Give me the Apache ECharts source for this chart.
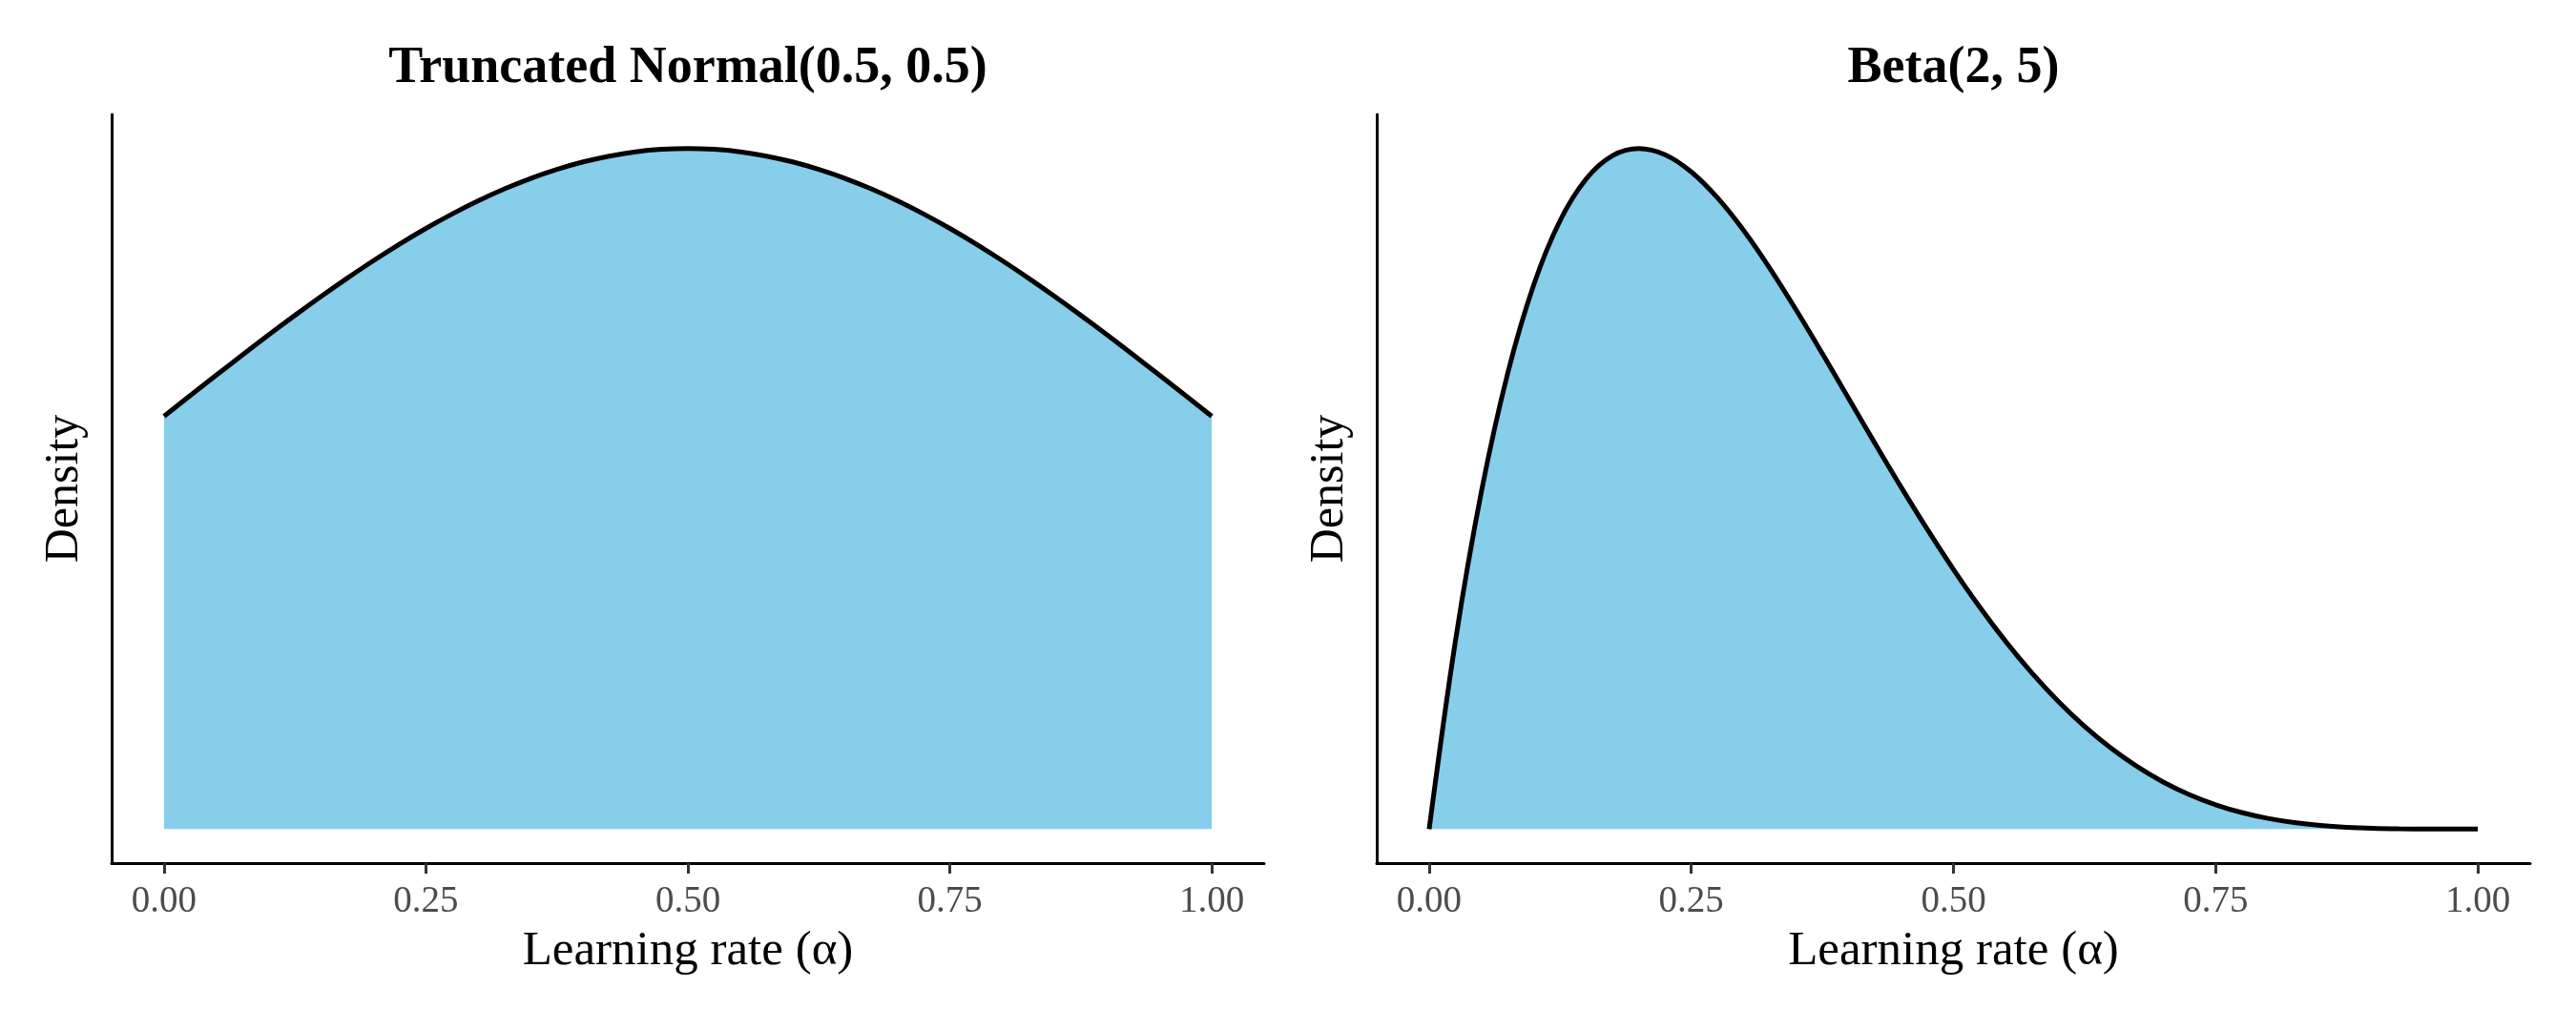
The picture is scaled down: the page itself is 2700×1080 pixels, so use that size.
<!DOCTYPE html>
<html>
<head>
<meta charset="utf-8">
<script src="https://cdn.jsdelivr.net/npm/echarts@6/dist/echarts.min.js"></script>
<style>
  html, body { margin: 0; padding: 0; background: #fff; }
  #chart { width: 2700px; height: 1080px; }
</style>
</head>
<body>
<div id="chart"></div>
<script>
// x positions shared by both curves (learning rate)
const alphaValues = [
    0, 0.025, 0.05, 0.075, 0.1, 0.125, 0.15, 0.175, 0.2, 0.225,
    0.25, 0.275, 0.3, 0.325, 0.35, 0.375, 0.4, 0.425, 0.45, 0.475,
    0.5, 0.525, 0.55, 0.575, 0.6, 0.625, 0.65, 0.675, 0.7, 0.725,
    0.75, 0.775, 0.8, 0.825, 0.85, 0.875, 0.9, 0.925, 0.95, 0.975, 1
];

// Density
const truncNormalDensity = [
    0.7088, 0.7443, 0.7795, 0.8144, 0.8487, 0.8822, 0.9147, 0.9461, 0.9762, 1.0047,
    1.0314, 1.0562, 1.0789, 1.0993, 1.1173, 1.1327, 1.1456, 1.1556, 1.1629, 1.1672,
    1.1687, 1.1672, 1.1629, 1.1556, 1.1456, 1.1327, 1.1173, 1.0993, 1.0789, 1.0562,
    1.0314, 1.0047, 0.9762, 0.9461, 0.9147, 0.8822, 0.8487, 0.8144, 0.7795, 0.7443, 0.7088
];

// Density
const betaDensity = [
    0, 0.6778, 1.2218, 1.6472, 1.9683, 2.1982, 2.3490, 2.4321, 2.4576, 2.4351,
    2.3730, 2.2793, 2.1609, 2.0240, 1.8743, 1.7166, 1.5552, 1.3937, 1.2353, 1.0826,
    0.9375, 0.8018, 0.6766, 0.5628, 0.4608, 0.3708, 0.2926, 0.2259, 0.1701, 0.1244,
    0.0879, 0.0596, 0.0384, 0.0232, 0.0129, 0.0064, 0.0027, 0.0009, 0.0002, 0.0000, 0
];

const xTickValues = [0, 0.25, 0.5, 0.75, 1];
const panelTitles = ["Truncated Normal(0.5, 0.5)", "Beta(2, 5)"];
const xAxisTitle = "Learning rate (\u03b1)";
const yAxisTitle = "Density";

const FONT = '"Liberation Serif", "Times New Roman", serif';
const FILL = "#87CEEB";

const chart = echarts.init(document.getElementById("chart"));

// Pair the x values with a density array
function toPoints(ys) {
    return alphaValues.map((x, i) => [x, ys[i]]);
}

// ggplot style 5% padding on the y range
function yRange(ys) {
    const top = Math.max(...ys);
    return { min: -0.05 * top, max: top * 1.05 };
}

function makeXAxis(gridIndex) {
    return {
        type: "value",
        gridIndex: gridIndex,
        min: -0.05,
        max: 1.05,
        name: xAxisTitle,
        nameLocation: "middle",
        nameGap: 67,
        nameTextStyle: { fontFamily: FONT, fontSize: 51, color: "#000" },
        axisLine: { onZero: false, lineStyle: { color: "#000", width: 3 } },
        axisTick: {
            show: true,
            customValues: xTickValues,
            length: 11,
            lineStyle: { color: "#333", width: 3 }
        },
        axisLabel: {
            customValues: xTickValues,
            formatter: v => v.toFixed(2),
            margin: 21,
            fontFamily: FONT,
            fontSize: 39,
            color: "#4d4d4d"
        },
        splitLine: { show: false }
    };
}

function makeYAxis(gridIndex, ys) {
    const r = yRange(ys);
    return {
        type: "value",
        gridIndex: gridIndex,
        min: r.min,
        max: r.max,
        name: yAxisTitle,
        nameLocation: "middle",
        nameGap: 24,
        nameTextStyle: { fontFamily: FONT, fontSize: 50, color: "#000" },
        axisLine: { show: true, onZero: false, lineStyle: { color: "#000", width: 3 } },
        axisTick: { show: false },
        axisLabel: { show: false },
        splitLine: { show: false }
    };
}

function makeSeries(idx, ys) {
    return {
        type: "line",
        xAxisIndex: idx,
        yAxisIndex: idx,
        data: toPoints(ys),
        showSymbol: false,
        smooth: 0.35,
        clip: false,
        lineStyle: { color: "#000", width: 5 },
        areaStyle: { color: FILL, opacity: 1 },
        silent: true
    };
}

const grids = [
    { left: 117, top: 120, width: 1208, height: 785 },
    { left: 1443, top: 120, width: 1209, height: 785 }
];

let options = {
    backgroundColor: "#fff",
    animation: false,
    grid: grids,
    xAxis: [makeXAxis(0), makeXAxis(1)],
    yAxis: [makeYAxis(0, truncNormalDensity), makeYAxis(1, betaDensity)],
    series: [makeSeries(0, truncNormalDensity), makeSeries(1, betaDensity)],
    graphic: panelTitles.map((t, i) => ({
        type: "text",
        x: grids[i].left + grids[i].width / 2,
        y: 72,
        style: {
            text: t,
            fontFamily: FONT,
            fontSize: 54,
            fontWeight: "bold",
            fill: "#000",
            align: "center",
            verticalAlign: "middle"
        }
    }))
};

chart.setOption(options);
</script>
</body>
</html>
